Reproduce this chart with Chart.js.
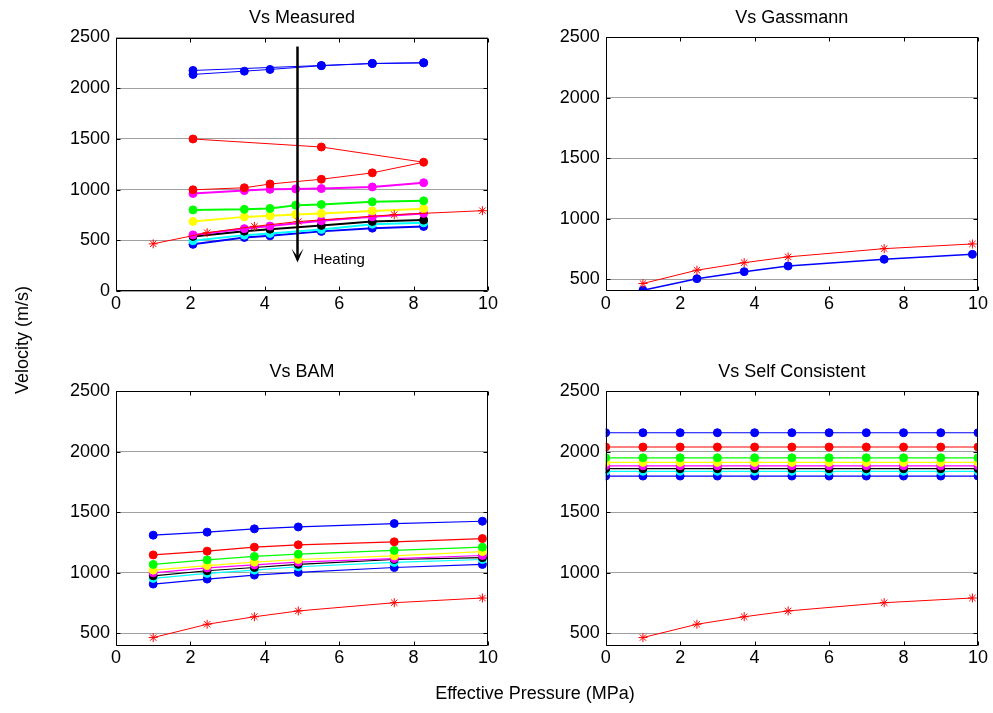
<!DOCTYPE html>
<html><head><meta charset="utf-8">
<script src="https://cdn.jsdelivr.net/npm/chart.js@4.4.1/dist/chart.umd.min.js"></script>
<style>
html,body{margin:0;padding:0;background:#fff;}
#wrap{position:relative;width:993px;height:713px;overflow:hidden;font-family:"Liberation Sans",Arial,sans-serif;background:#fff;}
canvas{position:absolute;left:0;top:0;}
.lab{position:absolute;font-size:18px;color:#000;white-space:nowrap;line-height:1;}
#ylab{left:22px;top:340px;transform:translate(-50%,-50%) rotate(-90deg);}
#xlab{left:535px;top:693px;transform:translate(-50%,-50%);}
</style></head><body>
<div id="wrap">
<canvas id="c1" width="993" height="713"></canvas>
<canvas id="c2" width="993" height="713"></canvas>
<canvas id="c3" width="993" height="713"></canvas>
<canvas id="c4" width="993" height="713"></canvas>
<div class="lab" id="ylab">Velocity (m/s)</div>
<div class="lab" id="xlab">Effective Pressure (MPa)</div>
</div>
<script>
// ---------- DATA ----------
const panelTitles = ['Vs Measured', 'Vs Gassmann', 'Vs BAM', 'Vs Self Consistent'];
const xTicks = [0, 2, 4, 6, 8, 10];
const yTicksFull = [0, 500, 1000, 1500, 2000, 2500];
const yTicksCut = [500, 1000, 1500, 2000, 2500];

// reference (red asterisks), same in every panel
const refP = [1.0, 2.45, 3.72, 4.9, 7.48, 9.85];
const refV = [465, 575, 637, 685, 753, 792];

// Measured panel
const blueAP = [2.07, 5.52, 6.89, 8.27];
const blueAV = [2175, 2224, 2244, 2251];
const blueBP = [2.07, 3.45, 4.14, 5.52, 6.89, 8.27];
const blueBV = [2136, 2168, 2185, 2222, 2243, 2250];
const redLoopP = [2.07, 5.52, 8.27, 6.89, 5.52, 4.14, 3.45, 2.07];
const redLoopV = [1499, 1420, 1270, 1165, 1102, 1055, 1018, 998];
const magUpP = [2.07, 3.45, 4.14, 4.83, 5.52, 6.89, 8.27];
const magUpV = [962, 990, 1003, 1007, 1010, 1026, 1068];
const greenP = [2.07, 3.45, 4.14, 4.83, 5.52, 6.89, 8.27];
const greenV = [800, 805, 814, 846, 853, 879, 889];
const yellowP = [2.07, 3.45, 4.14, 4.83, 5.52, 6.89, 8.27];
const yellowV = [686, 731, 741, 755, 765, 790, 810];
const magLoP = [2.07, 3.45, 4.14, 5.52, 6.89, 8.27];
const magLoV = [553, 615, 640, 692, 731, 765];
const blackP = [2.07, 3.45, 4.14, 5.52, 6.89, 8.27];
const blackV = [538, 590, 610, 647, 686, 699];
const cyanP = [2.07, 3.45, 4.14, 5.52, 6.89, 8.27];
const cyanV = [495, 551, 568, 607, 659, 672];
const blueLoP = [2.07, 3.45, 4.14, 5.52, 6.89, 8.27];
const blueLoV = [460, 528, 544, 588, 620, 637];

// Gassmann panel
const gassV = [409, 505, 563, 610, 665, 706];

// BAM panel (same pressures as reference)
const bamBlueTop = [1311, 1336, 1363, 1379, 1407, 1426];
const bamRed = [1148, 1179, 1212, 1231, 1256, 1283];
const bamGreen = [1069, 1107, 1135, 1154, 1185, 1212];
const bamYellow = [1022, 1060, 1088, 1110, 1140, 1175];
const bamMagenta = [1000, 1040, 1065, 1088, 1118, 1143];
const bamBlack = [975, 1017, 1044, 1070, 1110, 1125];
const bamCyan = [954, 995, 1022, 1050, 1086, 1110];
const bamBlueBot = [907, 948, 981, 1003, 1044, 1069];

// Self consistent panel
const scP = [0, 1, 2, 3, 4, 5, 6, 7, 8, 9, 10];
const scBlueTop = [2157, 2157, 2157, 2157, 2157, 2157, 2157, 2157, 2157, 2157, 2157];
const scRed = [2039, 2039, 2039, 2039, 2039, 2039, 2039, 2039, 2039, 2039, 2039];
const scGreen = [1950, 1950, 1950, 1950, 1950, 1950, 1950, 1950, 1950, 1950, 1950];
const scYellow = [1912, 1912, 1912, 1912, 1912, 1912, 1912, 1912, 1912, 1912, 1912];
const scMagenta = [1884, 1884, 1884, 1884, 1884, 1884, 1884, 1884, 1884, 1884, 1884];
const scBlack = [1860, 1860, 1860, 1860, 1860, 1860, 1860, 1860, 1860, 1860, 1860];
const scCyan = [1838, 1838, 1838, 1838, 1838, 1838, 1838, 1838, 1838, 1838, 1838];
const scBlueBot = [1799, 1799, 1799, 1799, 1799, 1799, 1799, 1799, 1799, 1799, 1799];

// heating arrow annotation (data coordinates)
const arrowX = 4.87;
const arrowY = [2411, 282];
const heatingLabel = 'Heating';
const heatingPos = [5.3, 312];

// ---------- STYLE ----------
const C = {blue:'#0000ff', red:'#ff0000', green:'#00ff00', yellow:'#ffff00',
           magenta:'#ff00ff', black:'#000000', cyan:'#00ffff'};
const FONT = '"Liberation Sans", Arial, sans-serif';

function pts(xs, ys){ return xs.map((x,i)=>({x:x, y:ys[i]})); }
function dot(xs, ys, color, lw){
  return {data:pts(xs,ys), showLine:true, borderColor:color, backgroundColor:color,
          borderWidth:lw||1, pointRadius:4, pointStyle:'circle', pointBorderWidth:1,
          pointBorderColor:color, pointBackgroundColor:color};
}
function star(xs, ys){
  return {data:pts(xs,ys), showLine:true, borderColor:C.red, backgroundColor:C.red,
          borderWidth:1, pointRadius:4.5, pointStyle:'star', pointBorderWidth:1,
          pointBorderColor:C.red, order:-1};
}

const deco = {
  id:'deco',
  afterDraw(chart, args, opts){
    const ctx = chart.ctx, a = chart.chartArea;
    const xs = chart.scales.x, ys = chart.scales.y;
    ctx.save();
    ctx.strokeStyle = '#000'; ctx.lineWidth = 1;
    const L = Math.round(a.left)+0.5, R = Math.round(a.right)-0.5,
          T = Math.round(a.top)+0.5, B = Math.round(a.bottom)-0.5;
    ctx.beginPath();
    ctx.moveTo(L,T); ctx.lineTo(R,T); ctx.lineTo(R,B); ctx.lineTo(L,B); ctx.closePath();
    ctx.stroke();
    ctx.beginPath();
    xs.ticks.forEach(t=>{
      const px = Math.round(xs.getPixelForValue(t.value))+0.5;
      ctx.moveTo(px,B); ctx.lineTo(px,B-4);
      ctx.moveTo(px,T); ctx.lineTo(px,T+4);
    });
    ys.ticks.forEach(t=>{
      const py = Math.round(ys.getPixelForValue(t.value))+0.5;
      ctx.moveTo(L,py); ctx.lineTo(L+4,py);
      ctx.moveTo(R,py); ctx.lineTo(R-4,py);
    });
    ctx.stroke();
    // title
    ctx.fillStyle = '#000';
    ctx.font = '18px ' + FONT;
    ctx.textAlign = 'center'; ctx.textBaseline = 'middle';
    ctx.fillText(opts.title, (a.left+a.right)/2, a.top - 19.5);
    // arrow
    if (opts.arrow){
      const ax = Math.round(xs.getPixelForValue(arrowX))+0.5;
      const y0 = ys.getPixelForValue(arrowY[0]);
      const y1 = ys.getPixelForValue(arrowY[1]);
      ctx.lineWidth = 2.5;
      ctx.beginPath(); ctx.moveTo(ax,y0); ctx.lineTo(ax,y1-3); ctx.stroke();
      ctx.beginPath();
      ctx.moveTo(ax-6, y1-14); ctx.lineTo(ax, y1); ctx.lineTo(ax+6, y1-14);
      ctx.lineTo(ax, y1-6); ctx.closePath(); ctx.fill();
      ctx.font = '15px ' + FONT;
      ctx.textAlign = 'left'; ctx.textBaseline = 'middle';
      ctx.fillText(heatingLabel, xs.getPixelForValue(heatingPos[0]), ys.getPixelForValue(heatingPos[1]));
    }
    ctx.restore();
  }
};

function makeChart(id, area, yMin, yTicks, datasets, title, arrow){
  const W = 993, H = 713, YW = 60, XH = 30;
  return new Chart(document.getElementById(id), {
    type:'scatter',
    data:{datasets:datasets},
    options:{
      responsive:false, animation:false, devicePixelRatio:1,
      layout:{padding:{left:area.l-YW, right:W-area.r, top:area.t, bottom:H-area.b-XH}},
      plugins:{legend:{display:false}, tooltip:{enabled:false}, title:{display:false},
               deco:{title:title, arrow:arrow}},
      elements:{line:{tension:0}},
      scales:{
        x:{type:'linear', min:0, max:10,
           afterFit(s){ s.height = XH; },
           afterBuildTicks(s){ s.ticks = xTicks.map(v=>({value:v})); },
           grid:{display:false, drawTicks:false}, border:{display:false},
           ticks:{padding:2, color:'#000', font:{family:FONT, size:18}, maxRotation:0,
                  callback:(v)=>String(v)}},
        y:{type:'linear', min:yMin, max:2500,
           afterFit(s){ s.width = YW; },
           afterBuildTicks(s){ s.ticks = yTicks.map(v=>({value:v})); },
           grid:{display:true, drawTicks:false, color:'#a0a0a0', lineWidth:1}, border:{display:false},
           ticks:{padding:6, color:'#000', font:{family:FONT, size:18},
                  callback:(v)=>String(v)}}
      }
    },
    plugins:[deco]
  });
}

// Panel 1: measured
makeChart('c1', {l:116, r:488, t:37.5, b:291}, 0, yTicksFull, [
  star(refP, refV),
  dot(blueAP, blueAV, C.blue, 1),
  dot(blueBP, blueBV, C.blue, 1),
  dot(redLoopP, redLoopV, C.red, 1),
  dot(magUpP, magUpV, C.magenta, 2),
  dot(greenP, greenV, C.green, 2),
  dot(yellowP, yellowV, C.yellow, 2),
  dot(magLoP, magLoV, C.magenta, 2),
  dot(blackP, blackV, C.black, 2),
  dot(cyanP, cyanV, C.cyan, 2),
  dot(blueLoP, blueLoV, C.blue, 2)
], panelTitles[0], true);

// Panel 2: Gassmann
makeChart('c2', {l:605.7, r:978, t:37.3, b:291}, 403, yTicksCut, [
  star(refP, refV),
  dot(refP, gassV, C.blue, 1.5)
], panelTitles[1], false);

// Panel 3: BAM
makeChart('c3', {l:116, r:488, t:391.2, b:645.7}, 398, yTicksCut, [
  star(refP, refV),
  dot(refP, bamBlueTop, C.blue, 1.2),
  dot(refP, bamRed, C.red, 1.2),
  dot(refP, bamGreen, C.green, 1.2),
  dot(refP, bamYellow, C.yellow, 1.2),
  dot(refP, bamMagenta, C.magenta, 1.2),
  dot(refP, bamBlack, C.black, 1.2),
  dot(refP, bamCyan, C.cyan, 1.2),
  dot(refP, bamBlueBot, C.blue, 1.2)
], panelTitles[2], false);

// Panel 4: Self consistent
makeChart('c4', {l:605.7, r:978, t:391.2, b:645.7}, 398, yTicksCut, [
  star(refP, refV),
  dot(scP, scBlueTop, C.blue, 1.2),
  dot(scP, scRed, C.red, 1.2),
  dot(scP, scGreen, C.green, 1.2),
  dot(scP, scYellow, C.yellow, 1.2),
  dot(scP, scMagenta, C.magenta, 1.2),
  dot(scP, scBlack, C.black, 1.2),
  dot(scP, scCyan, C.cyan, 1.2),
  dot(scP, scBlueBot, C.blue, 1.2)
], panelTitles[3], false);
</script>
</body></html>
